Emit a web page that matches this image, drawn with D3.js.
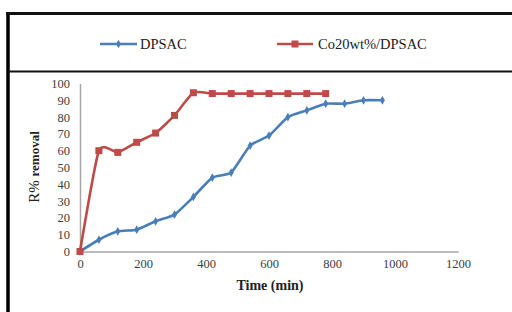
<!DOCTYPE html>
<html><head><meta charset="utf-8">
<script src="https://cdn.jsdelivr.net/npm/d3@7"></script>
<style>body{margin:0;background:#fff}svg{display:block}</style>
</head><body>
<script>
const seriesNames = ["DPSAC", "Co20wt%/DPSAC"];
const timeBlue = [0,60,120,180,240,300,360,420,480,540,600,660,720,780,840,900,960];
const valBlue  = [0,7,12,13,18,22,32.5,44,47,63,69,80,84,88,88,90,90];
const timeRed  = [0,60,120,180,240,300,360,420,480,540,600,660,720,780];
const valRed   = [0,60,59,65,70.5,81,94.5,94,94,94,94,94,94,94];
const xTicks = [0,200,400,600,800,1000,1200];
const yTicks = [0,10,20,30,40,50,60,70,80,90,100];
const colors = ["#4a7ebb", "#be4b48"];

const W = 512, H = 312;
const svg = d3.select("body").append("svg").attr("width", W).attr("height", H);

// frame
svg.append("line").attr("x1",8).attr("x2",8).attr("y1",12).attr("y2",H).attr("stroke","#000").attr("stroke-width",3.5);
svg.append("line").attr("x1",6).attr("x2",W).attr("y1",13.5).attr("y2",13.5).attr("stroke","#111").attr("stroke-width",3);
svg.append("line").attr("x1",8).attr("x2",W).attr("y1",71.5).attr("y2",71.5).attr("stroke","#111").attr("stroke-width",1.8);

const x = d3.scaleLinear().domain([0,1200]).range([80,458]);
const y = d3.scaleLinear().domain([0,100]).range([251.5,83.5]);

// axes
const xAxis = svg.append("g").attr("transform","translate(0,251.5)")
  .call(d3.axisBottom(x).tickValues(xTicks).tickFormat(d3.format("d")).tickSize(0).tickPadding(8));
const yAxis = svg.append("g").attr("transform","translate(80,0)")
  .call(d3.axisLeft(y).tickValues(yTicks).tickFormat(d3.format("d")).tickSize(0).tickPadding(10));
[xAxis,yAxis].forEach(g=>{
  g.select(".domain").attr("stroke","#a6a6a6").attr("stroke-width",1.5);
  g.selectAll("text").attr("font-family","'Liberation Serif', serif").attr("font-size",12.5).attr("fill","#404040");
});

// titles
svg.append("text").attr("x",270).attr("y",290).attr("text-anchor","middle")
  .attr("font-family","'Liberation Serif', serif").attr("font-weight","bold").attr("font-size",14).attr("fill","#222")
  .text("Time (min)");
const yt = svg.append("text").attr("transform","translate(39,167) rotate(-90)").attr("text-anchor","middle")
  .attr("font-family","'Liberation Serif', serif").attr("fill","#222");
yt.append("tspan").attr("font-size",15).text("R%  ");
yt.append("tspan").attr("font-size",13).attr("font-weight","bold").text("removal");

// lines
const line = d3.line().x(d=>x(d[0])).y(d=>y(d[1])).curve(d3.curveCardinal.tension(0.45));
const blue = timeBlue.map((t,i)=>[t,valBlue[i]]);
const red = timeRed.map((t,i)=>[t,valRed[i]]);
svg.append("path").datum(blue).attr("d",line).attr("fill","none").attr("stroke",colors[0]).attr("stroke-width",2.6);
svg.append("path").datum(red).attr("d",line).attr("fill","none").attr("stroke",colors[1]).attr("stroke-width",2.6);
const diamond = d3.symbol().type(d3.symbolDiamond).size(22);
svg.selectAll(".mb").data(blue).enter().append("path").attr("d",diamond)
  .attr("transform",d=>`translate(${x(d[0])},${y(d[1])})`).attr("fill",colors[0]);
svg.selectAll(".mr").data(red).enter().append("rect")
  .attr("x",d=>x(d[0])-3.5).attr("y",d=>y(d[1])-3.5).attr("width",7).attr("height",7).attr("fill",colors[1]);

// legend
const leg = [{x1:100,x2:137,tx:140},{x1:277,x2:313,tx:318}];
leg.forEach((l,i)=>{
  svg.append("line").attr("x1",l.x1).attr("x2",l.x2).attr("y1",44).attr("y2",44).attr("stroke",colors[i]).attr("stroke-width",2.6);
  if(i===0) svg.append("path").attr("d",diamond).attr("transform",`translate(${(l.x1+l.x2)/2},44)`).attr("fill",colors[0]);
  else svg.append("rect").attr("x",(l.x1+l.x2)/2-3.5).attr("y",40.5).attr("width",7).attr("height",7).attr("fill",colors[1]);
  svg.append("text").attr("x",l.tx).attr("y",48.5).attr("font-family","'Liberation Serif', serif").attr("font-size",14.5)
    .attr("fill","#222").text(seriesNames[i]);
});
</script>
</body></html>
